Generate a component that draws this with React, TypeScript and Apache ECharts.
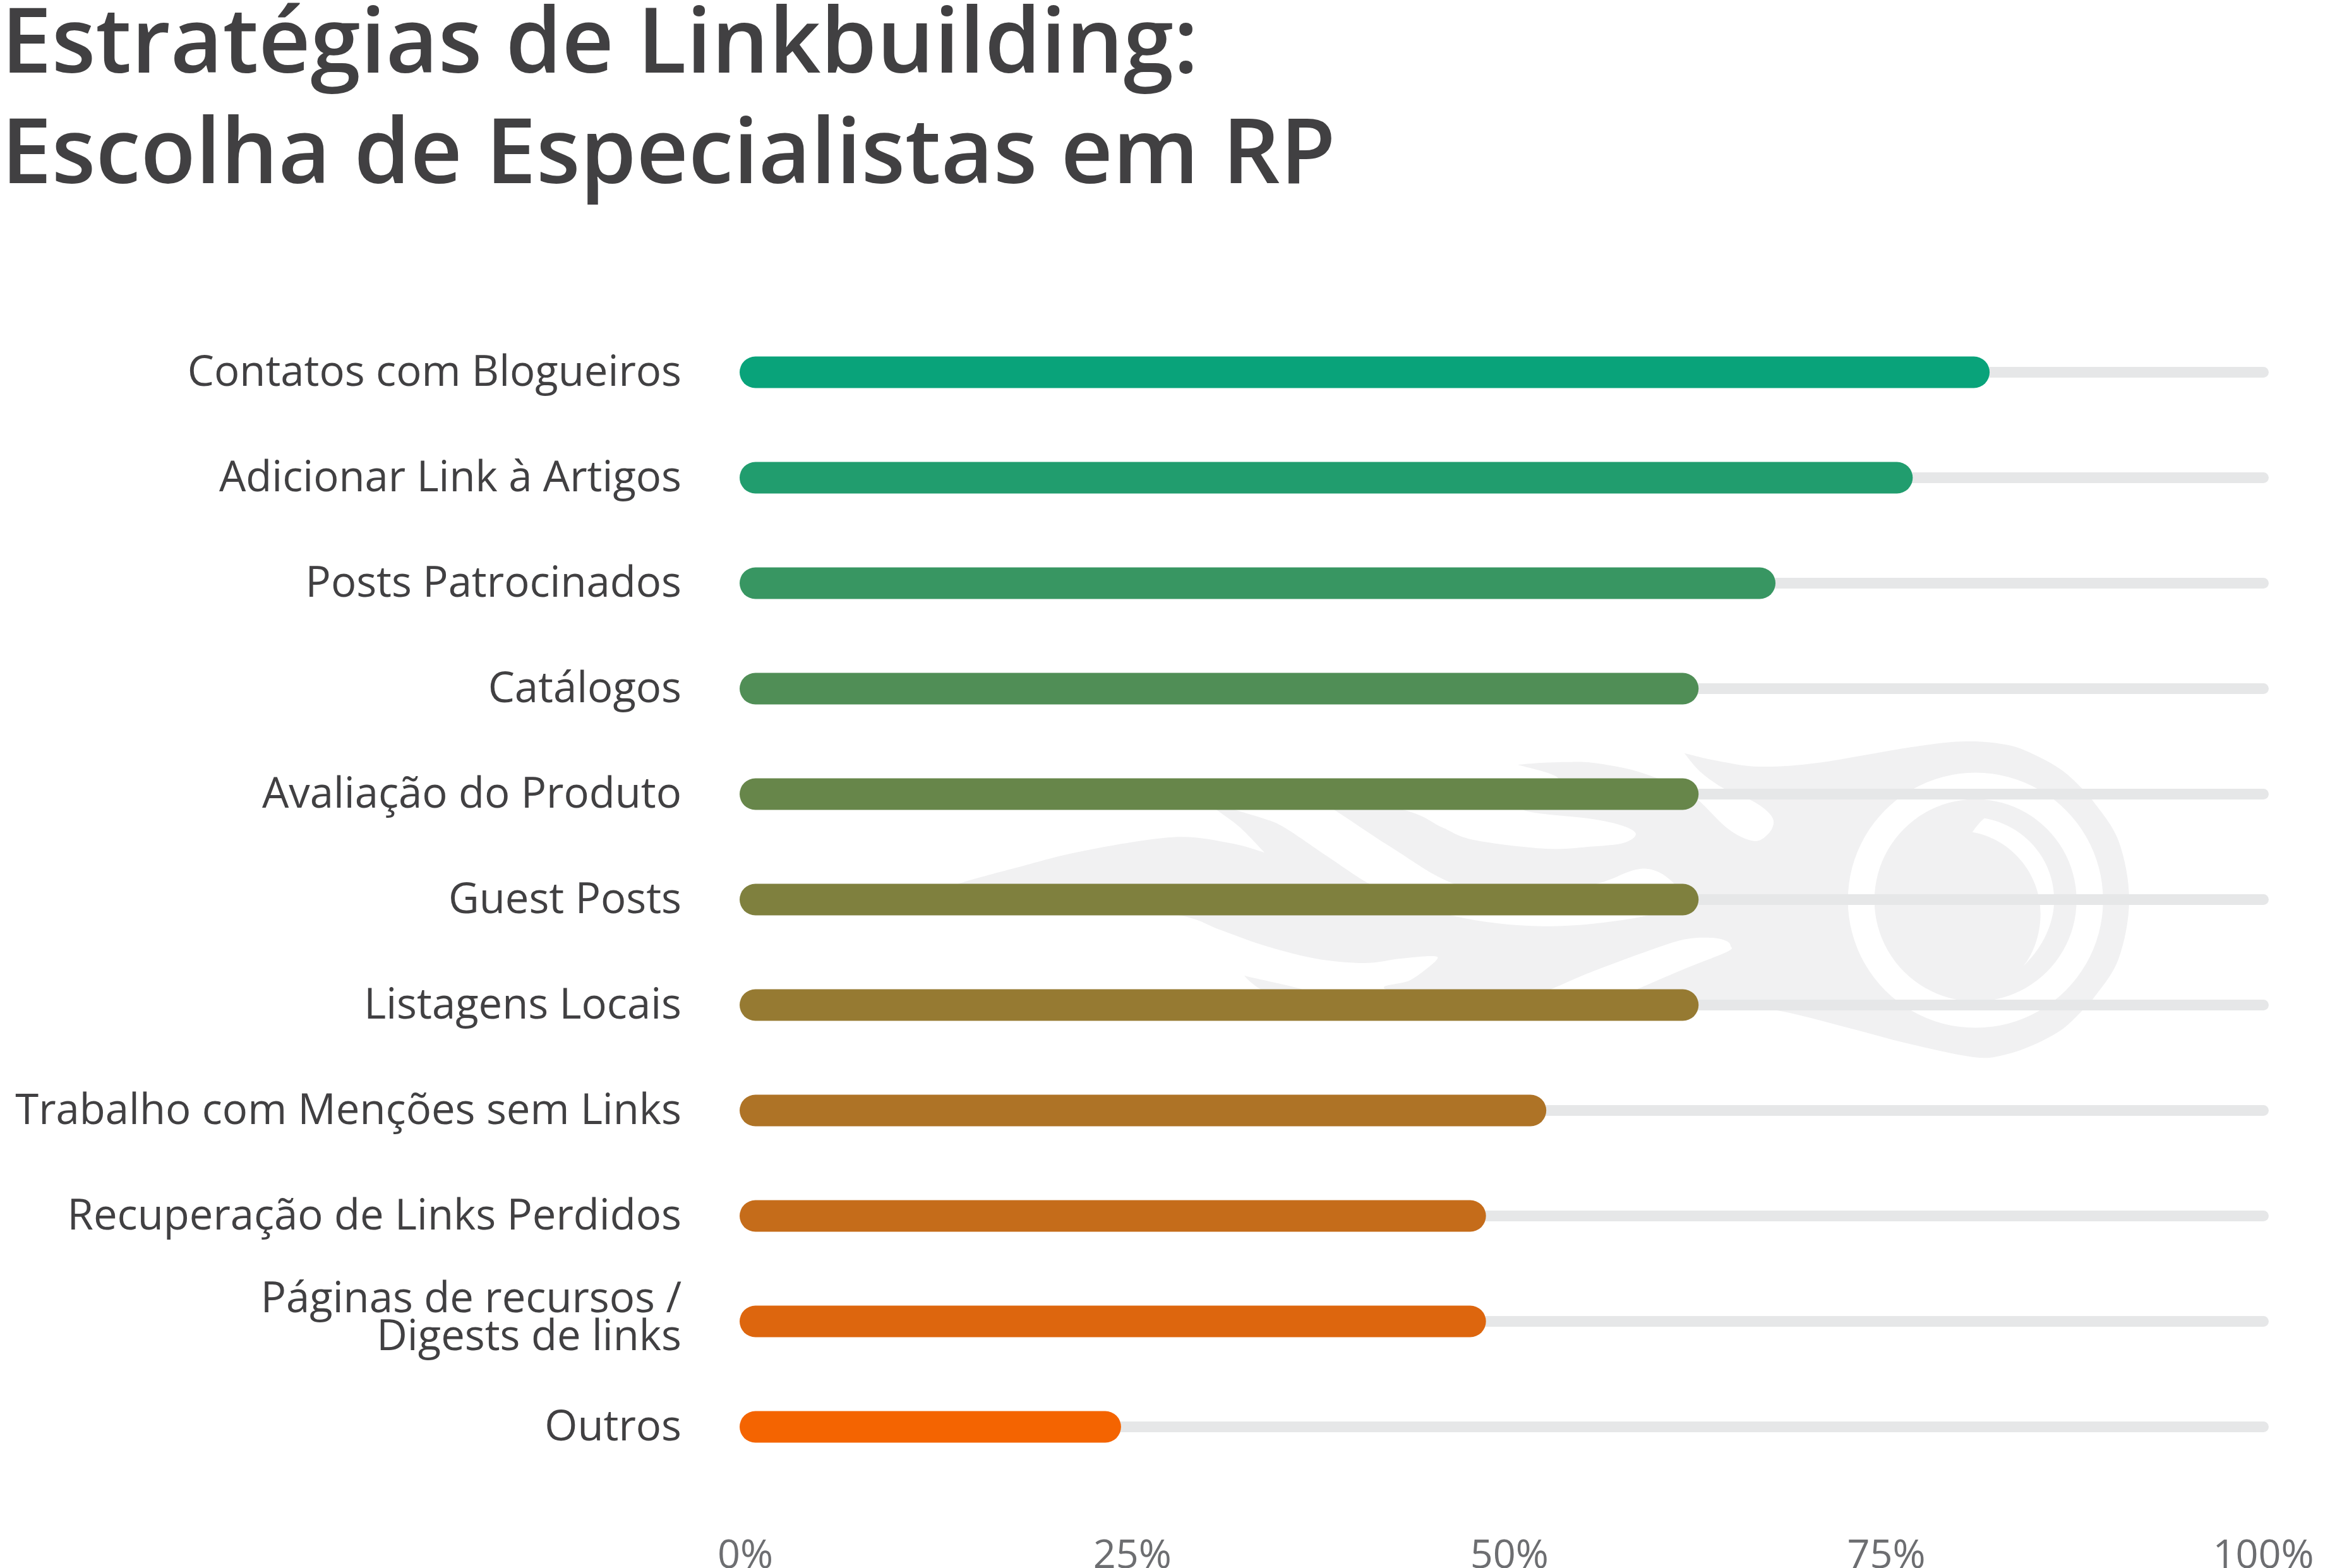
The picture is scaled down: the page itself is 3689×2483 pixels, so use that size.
import React, { useEffect, useRef } from "react";
import * as echarts from "echarts";

const titleText = "Estratégias de Linkbuilding:\nEscolha de Especialistas em RP";
const categories = [
  "Contatos com Blogueiros",
  "Adicionar Link à Artigos",
  "Posts Patrocinados",
  "Catálogos",
  "Avaliação do Produto",
  "Guest Posts",
  "Listagens Locais",
  "Trabalho com Menções sem Links",
  "Recuperação de Links Perdidos",
  "Páginas de recursos /\nDigests de links",
  "Outros",
];
const values = [80.8, 75.7, 66.6, 61.5, 61.5, 61.5, 61.5, 51.4, 47.4, 47.4, 23.2];
const barColors = [
  "#09a37a", "#219d6e", "#389662", "#508e56", "#67864a", "#7f803e",
  "#967a32", "#ae7326", "#c56c1a", "#dd660e", "#f46401",
];
const axisMax = 100;
const tickStep = 25;
const trackColor = "#e6e7e8";
const logoColor = "#f1f1f2";
const fontFamily = "'Open Sans'";

type Pt = [number, number];
// Catmull-Rom run through the traced points of the logo outline
function run(pts: Pt[], first: boolean): string {
  let d = first ? `M${pts[0][0]} ${pts[0][1]}` : `L${pts[0][0]} ${pts[0][1]}`;
  for (let i = 0; i < pts.length - 1; i++) {
    const p0 = pts[i - 1] || pts[i];
    const p1 = pts[i];
    const p2 = pts[i + 1];
    const p3 = pts[i + 2] || p2;
    const c1x = p1[0] + (p2[0] - p0[0]) / 6;
    const c1y = p1[1] + (p2[1] - p0[1]) / 6;
    const c2x = p2[0] - (p3[0] - p1[0]) / 6;
    const c2y = p2[1] - (p3[1] - p1[1]) / 6;
    d += `C${c1x} ${c1y} ${c2x} ${c2y} ${p2[0]} ${p2[1]}`;
  }
  return d;
}
const bodyRuns: Pt[][] = [
  [[2403,1211],[2440,1208],[2483,1206.7],[2520,1207.7],[2575,1217],[2623,1232],[2660,1250],[2686.7,1265],[2736.7,1313],[2776.7,1331.7],[2800,1320],[2808,1300],[2795,1282],[2770,1266],[2730,1249],[2693,1223],[2666.7,1192.7]],
  [[2666.7,1192.7],[2720,1205],[2786.7,1214],[2880,1207.7],[3026.7,1183],[3113,1174],[3180,1180],[3225,1197],[3265,1220],[3297,1249],[3312,1266],[3354,1331],[3371,1425],[3354,1519],[3313,1583],[3297,1600],[3265,1630],[3221,1654],[3175,1670],[3127,1674.3],[3023,1653],[2920,1626],[2813,1600],[2700,1588],[2600,1590]],
  [[2593,1566],[2670,1533],[2735,1507],[2740,1498],[2733,1490],[2710,1485],[2670,1487],[2620,1502],[2520,1539],[2457,1566],[2400,1590]],
  [[2300,1595],[2193,1566],[2233,1552],[2273,1521.7],[2268,1514],[2217,1518],[2160,1525],[2083,1518],[2000,1496.7],[1930,1471.7],[1866.7,1449.3],[1700,1425],[1490,1415]],
  [[1490,1415],[1518.3,1399.3],[1613,1373],[1713,1348],[1856.7,1325.7],[1947,1335],[2002,1350]],
  [[2002,1350],[1963,1310],[1926.7,1282.7],[1905,1265]],
  [[1905,1265],[1956.7,1282.7],[2000,1296],[2033,1310],[2100,1355],[2167,1399],[2235,1430],[2300,1450],[2370,1462],[2443,1466.7],[2520,1463],[2610,1449.3],[2650,1430],[2655,1412],[2650,1399],[2630,1383],[2607,1375.7],[2580,1380],[2530,1399],[2415,1425],[2300,1399],[2200,1340],[2113,1282.7],[2060,1250]],
  [[2060,1250],[2223.3,1282.7],[2283,1310],[2333,1330],[2447,1344],[2520,1340.5],[2570,1335],[2590,1321],[2570,1308],[2520,1296.7],[2413,1283],[2440,1258],[2467,1232],[2403,1211]],
];
const bodyPath = bodyRuns.map((r, i) => run(r, i === 0)).join("") + "Z";
const smallFlamePath = "M1970 1545C1985 1549 2030 1558 2060 1566L2100 1590L2030 1590L1995 1566C1985 1560 1976 1552 1970 1545Z";
const arcPath = "M3141.7 1295.7C3204 1306 3252.3 1360 3252.3 1424.3C3252.3 1465 3232 1503 3203.3 1530C3220 1510 3230.7 1478 3230.7 1446.7C3230.7 1380 3180 1327 3122.7 1317.7C3128 1310 3134 1302 3141.7 1295.7Z";
echarts.graphic.registerShape("logoBodyPath", (echarts.graphic as any).extendPath(bodyPath, {}));
echarts.graphic.registerShape("logoSmall", (echarts.graphic as any).extendPath(smallFlamePath, {}));
echarts.graphic.registerShape("logoArc", (echarts.graphic as any).extendPath(arcPath, {}));

export default function App() {
  const ref = useRef<HTMLDivElement>(null);
  useEffect(() => {
    document.body.style.margin = "0";
    const chart = echarts.init(ref.current!, undefined, { renderer: "svg" });
    const capLine = (width: number, color: (i: number) => string) => (params: any, api: any) => {
      const a = api.coord([0, api.value(1)]);
      const b = api.coord([api.value(0), api.value(1)]);
      return {
        type: "line",
        shape: { x1: a[0], y1: a[1], x2: b[0], y2: b[1] },
        style: { stroke: color(params.dataIndex), lineWidth: width, lineCap: "round", fill: "none" },
      };
    };
    chart.setOption({
      animation: false,
      backgroundColor: "#ffffff",
      title: {
        text: titleText,
        left: 2,
        top: -28,
        padding: 0,
        textStyle: { fontFamily, fontSize: 143, fontWeight: 600, color: "#414042", lineHeight: 175 },
      },
      graphic: [
        {
          type: "group",
          z: -10,
          children: [
            { type: "logoBodyPath", x: 0, y: 0, style: { fill: logoColor } },
            { type: "logoSmall", x: 0, y: 0, style: { fill: logoColor } },
            { type: "circle", shape: { cx: 3127.7, cy: 1425.6, r: 202 }, style: { fill: "#ffffff" } },
            { type: "circle", shape: { cx: 3127.7, cy: 1425.6, r: 160 }, style: { fill: logoColor } },
            { type: "logoArc", x: 0, y: 0, style: { fill: "#ffffff" } },
          ],
        },
      ],
      grid: { left: 1196, top: 506, width: 2387.5, height: 1837, containLabel: false, outerBoundsMode: "none" },
      xAxis: {
        type: "value",
        min: 0,
        max: axisMax,
        interval: tickStep,
        axisLine: { show: false },
        axisTick: { show: false },
        splitLine: { show: false },
        axisLabel: {
          margin: 92,
          color: "#6d6e71",
          fontFamily,
          fontSize: 63,
          lineHeight: 46,
          formatter: (v: number) => (v === 0 ? "{zero|0%}" : `${v}%`),
          rich: { zero: { color: "#6d6e71", fontFamily, fontSize: 63, lineHeight: 46, padding: [0, 32, 0, 0] } },
        },
      },
      yAxis: {
        type: "category",
        inverse: true,
        data: categories,
        axisLine: { show: false },
        axisTick: { show: false },
        axisLabel: {
          margin: 117,
          color: "#414042",
          fontFamily,
          fontSize: 67,
          lineHeight: 71,
          interval: 0,
          padding: [0, 0, 10, 0],
          formatter: (v: string) => {
            const parts = v.split("\n");
            return parts.length > 1 ? `{a|${parts[0]}}\n{b|${parts[1]}}` : v;
          },
          rich: {
            a: { color: "#414042", fontFamily, fontSize: 67, lineHeight: 71, align: "right" },
            b: { color: "#414042", fontFamily, fontSize: 67, lineHeight: 71, align: "right", padding: [0, 0, 22, 0] },
          },
        },
      },
      series: [
        {
          type: "custom",
          z: 2,
          encode: { x: 0, y: 1 },
          data: categories.map((_, i) => [axisMax, i]),
          renderItem: capLine(17, () => trackColor),
        },
        {
          type: "custom",
          z: 3,
          encode: { x: 0, y: 1 },
          data: values.map((v, i) => [v, i]),
          renderItem: capLine(50, (i) => barColors[i]),
        },
      ],
    });
    return () => chart.dispose();
  }, []);
  return <div ref={ref} style={{ position: "absolute", left: 0, top: 0, width: 3689, height: 2483 }} />;
}
